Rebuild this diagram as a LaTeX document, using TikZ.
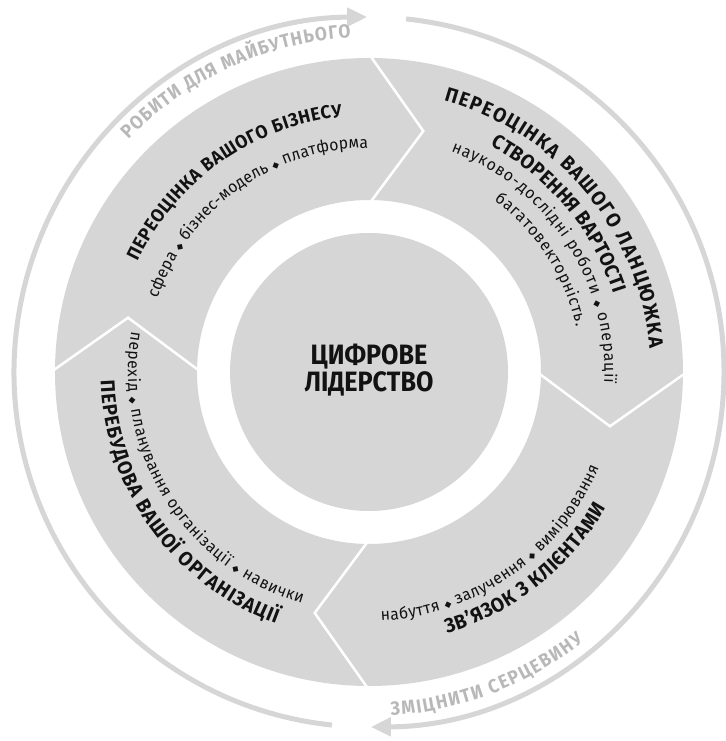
\documentclass[tikz,border=0pt]{standalone}
\usepackage{fontspec}
\setmainfont{Fira Sans}
\newfontfamily\segfam[FakeStretch=0.95]{Fira Sans}
\newfontfamily\subfam[FakeStretch=0.95]{Fira Sans}
\newfontfamily\ringfam[FakeStretch=0.92]{Fira Sans}
\newfontfamily\ctrfam[FakeStretch=0.9]{Fira Sans}
\newfontfamily\symfam{DejaVu Sans}
\usetikzlibrary{arrows.meta,decorations.text}
\definecolor{bandgray}{gray}{0.84}
\definecolor{ringgray}{gray}{0.84}
\definecolor{ringtext}{gray}{0.72}
\definecolor{inkblack}{gray}{0.07}
\newcommand\segttl{\segfam\bfseries\fontsize{20}{20}\selectfont}
\newcommand\segttlsmall{\segfam\bfseries\fontsize{18.5}{18.5}\selectfont}
\newcommand\segsub{\subfam\fontsize{16.5}{16.5}\selectfont}
\newcommand\segdia{\symfam\fontsize{9}{9}\selectfont}
\newcommand\ringtxt{\ringfam\bfseries\fontsize{19}{19}\selectfont}
\newcommand\ctrfont{\ctrfam\bfseries\fontsize{28}{27}\selectfont}
\tikzset{
  arctxt/.style={decorate, decoration={text along path, text color=inkblack, text align={fit to path}, text={#1}}},
  ringline/.style={draw=ringgray, line width=5pt},
  divider/.style={draw=white, line width=2.5pt, line join=miter},
  ringhead/.style={-{Triangle[length=20pt,width=18pt]}},
}
\begin{document}
\begin{tikzpicture}[x=1pt,y=1pt]
\fill[white] (-369pt,-369pt) rectangle (356pt,372pt);
\useasboundingbox (-369pt,-369pt) rectangle (356pt,372pt);
% band and core
\fill[bandgray, even odd rule] (0,0) circle[radius=314pt] (0,0) circle[radius=172pt];
\fill[bandgray] (0,0) circle[radius=139pt];
\node[font=\ctrfont, align=center, text=inkblack, inner sep=0pt] (core) at (0pt,1.5pt) {ЦИФРОВЕ\\ЛІДЕРСТВО};
% dividers
\foreach \a in {90,0,-90,180}
  \draw[divider] (\a:318pt) -- ({\a-12.7}:247pt) -- (\a:168pt);
% outer ring arrows
\draw[ringline, ringhead] (264:355pt) arc[start angle=264, end angle=90.3, radius=355pt];
\draw[ringline, ringhead] (84:355pt) arc[start angle=84, end angle=-89.7, radius=355pt];
% ring texts
\path[arctxt={|\ringtxt|РОБИТИ ДЛЯ МАЙБУТНЬОГО}, decoration={text color=ringtext}]
  (136:334.5pt) arc[start angle=136, end angle=93.1, radius=334.5pt];
\path[arctxt={|\ringtxt|ЗМІЦНИТИ СЕРЦЕВИНУ}, decoration={text color=ringtext}]
  (-86.3:344.5pt) arc[start angle=-86.3, end angle=-51.4, radius=344.5pt];
% segment 1
\path[arctxt={|\segttlsmall|ПЕРЕОЦІНКА ВАШОГО БІЗНЕСУ}]
  (154.5:256.5pt) arc[start angle=154.5, end angle=96.0, radius=256.5pt];
\path[arctxt={|\segsub|сфера |\segdia|◆|\segsub| бізнес-модель |\segdia|◆|\segsub| платформа}]
  (160.8:224pt) arc[start angle=160.8, end angle=90.3, radius=224pt];
% segment 2
\path[arctxt={|\segttl|ПЕРЕОЦІНКА ВАШОГО ЛАНЦЮЖКА}]
  (74.6:281.5pt) arc[start angle=74.6, end angle=4.9, radius=281.5pt];
\path[arctxt={|\segttl|СТВОРЕННЯ ВАРТОСТІ}]
  (61.8:256.5pt) arc[start angle=61.8, end angle=17.7, radius=256.5pt];
\path[arctxt={|\segsub|науково-дослідні роботи |\segdia|◆|\segsub| операції}]
  (69.6:235.5pt) arc[start angle=69.6, end angle=-2.6, radius=235.5pt];
\path[arctxt={|\segsub|багатовекторність.}]
  (53.8:212pt) arc[start angle=53.8, end angle=12.3, radius=212pt];
% segment 3
\path[arctxt={|\segsub|набуття |\segdia|◆|\segsub| залучення |\segdia|◆|\segsub| вимірювання}]
  (-87.2:249pt) arc[start angle=-87.2, end angle=-22.6, radius=249pt];
\path[arctxt={|\segttl|ЗВ’ЯЗОК З КЛІЄНТАМИ}]
  (-73.4:273pt) arc[start angle=-73.4, end angle=-29.7, radius=273pt];
% segment 4
\path[arctxt={|\segsub|перехід |\segdia|◆|\segsub| планування організації |\segdia|◆|\segsub| навички}]
  (170.4:241pt) arc[start angle=170.4, end angle=253.8, radius=241pt];
\path[arctxt={|\segttl|ПЕРЕБУДОВА ВАШОЇ ОРГАНІЗАЦІЇ}]
  (181.9:268.5pt) arc[start angle=181.9, end angle=249.7, radius=268.5pt];
\end{tikzpicture}
\end{document}
